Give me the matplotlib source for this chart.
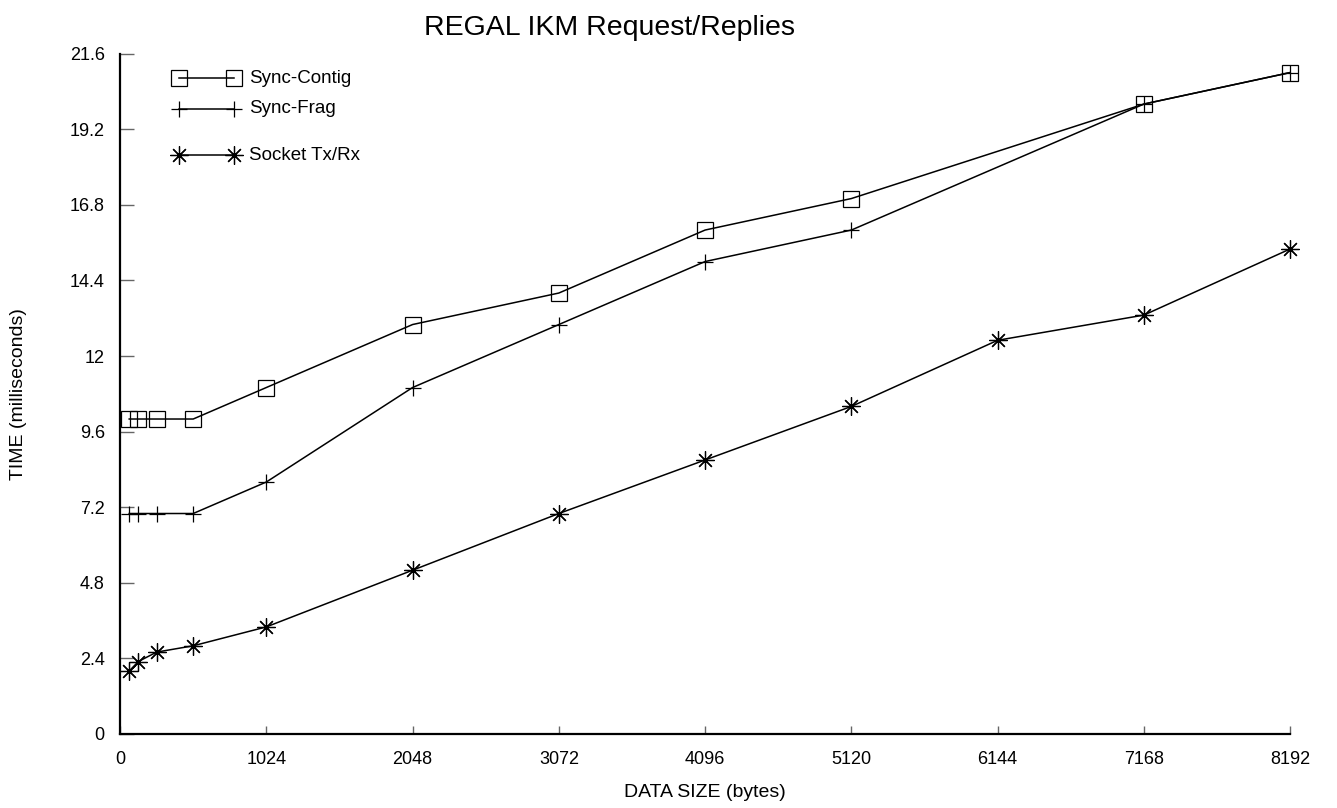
import numpy as np
from matplotlib import pyplot as plt

plt.rcParams['font.family'] = ['Liberation Sans', 'DejaVu Sans']

# message sizes in bytes
sizes = [64, 128, 256, 512, 1024, 2048, 3072, 4096, 5120, 7168, 8192]
socket_sizes = [64, 128, 256, 512, 1024, 2048, 3072, 4096, 5120, 6144, 7168, 8192]

# round trip times in milliseconds
sync_contig = [10.0, 10.0, 10.0, 10.0, 11.0, 13.0, 14.0, 16.0, 17.0, 20.0, 21.0]
sync_frag = [7.0, 7.0, 7.0, 7.0, 8.0, 11.0, 13.0, 15.0, 16.0, 20.0, 21.0]
socket_txrx = [2.0, 2.3, 2.6, 2.8, 3.4, 5.2, 7.0, 8.7, 10.4, 12.5, 13.3, 15.4]

x_ticks = [0, 1024, 2048, 3072, 4096, 5120, 6144, 7168, 8192]
y_ticks = [0, 2.4, 4.8, 7.2, 9.6, 12, 14.4, 16.8, 19.2, 21.6]
y_labels = ['0', '2.4', '4.8', '7.2', '9.6', '12', '14.4', '16.8', '19.2', '21.6']

fig = plt.figure(figsize=(13.37, 8.08), dpi=100)
ax = fig.add_axes([0.0898, 0.0916, 0.8752, 0.842])

star = (8, 2, 0)
styles = [
    ('Sync-Contig', sizes, sync_contig, dict(marker='s', markersize=11, markerfacecolor='none')),
    ('Sync-Frag', sizes, sync_frag, dict(marker='+', markersize=11)),
    ('Socket Tx/Rx', socket_sizes, socket_txrx, dict(marker=star, markersize=13)),
]
for name, xs, ys, kw in styles:
    ax.plot(xs, ys, color='black', lw=1.1, markeredgewidth=0.9, clip_on=False, **kw)

# hand drawn key with uneven row spacing
key_rows = [0.964, 0.919, 0.851]
for (name, xs, ys, kw), yk in zip(styles, key_rows):
    ax.plot([0.0503, 0.0972], [yk, yk], transform=ax.transAxes, color='black',
            lw=1.1, markeredgewidth=0.9, clip_on=False, **kw)
    ax.text(0.11, yk, name, transform=ax.transAxes, fontsize=13.5, va='center', ha='left')

ax.set_xlim(0, 8192)
ax.set_ylim(0, 21.6)
ax.set_xticks(x_ticks)
ax.set_xticklabels([str(t) for t in x_ticks], fontsize=13)
ax.set_yticks(y_ticks)
ax.set_yticklabels(y_labels, fontsize=13)

for side in ['top', 'right']:
    ax.spines[side].set_visible(False)
for side in ['left', 'bottom']:
    ax.spines[side].set_linewidth(1.6)

ax.tick_params(axis='y', direction='in', length=10, width=1, color='#666666', pad=11)
ax.tick_params(axis='x', direction='in', length=6, width=1, color='#666666', pad=12)

ax.set_xlabel('DATA SIZE (bytes)', fontsize=14, va='center')
ax.xaxis.set_label_coords(0.5, -0.086)
ax.set_ylabel('TIME (milliseconds)', fontsize=14, va='center')
ax.yaxis.set_label_coords(-0.087, 0.5)
fig.text(0.456, 0.965, 'REGAL IKM Request/Replies', fontsize=20.5, ha='center', va='center')

fig.savefig('out.png', dpi=100)
